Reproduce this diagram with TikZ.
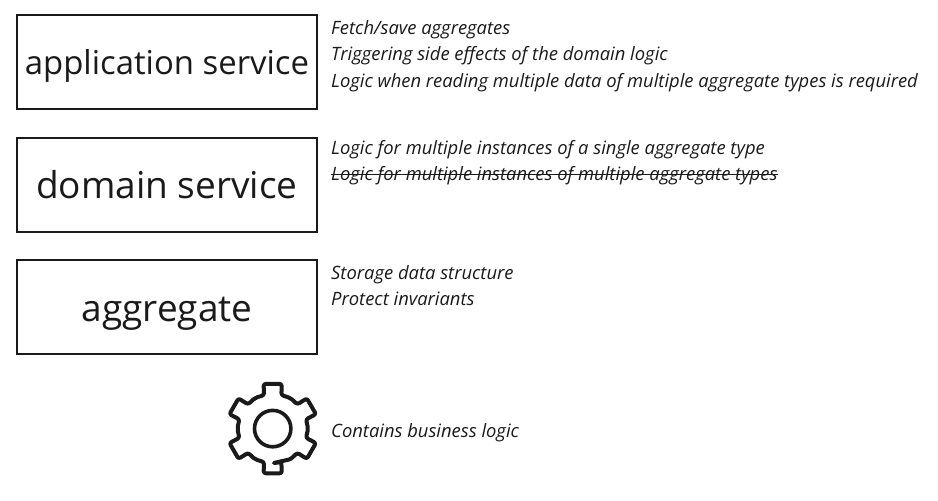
\documentclass[tikz,border=0pt]{standalone}
\usepackage{fontspec}
\setmainfont{Open Sans}
\definecolor{ink}{HTML}{1A1A1A}
\begin{document}
\begin{tikzpicture}[x=1pt,y=-1pt,
  box/.style={draw=ink,text=ink,line width=2pt,minimum width=300pt,minimum height=94pt,inner sep=0pt,text depth=0pt},
  big/.style={font=\fontsize{37}{44}\selectfont,text height=28pt},
  mid/.style={font=\fontsize{32.9}{40}\selectfont,text height=26pt},
  note/.style={anchor=base west,inner sep=0pt,text=ink,font=\fontsize{18.39}{22}\selectfont\itshape}]
\useasboundingbox (0,0) rectangle (938,501);
\fill[white] (0,0) rectangle (938,501);
\node[box,mid] (app) at (167,61.8) {application service};
\node[box,big] (dom) at (167,184.6) {domain service};
\node[box,big] (agg) at (167,307.3) {aggregate};
\node[note] (a1) at (331,34) {Fetch/save aggregates};
\node[note] (a2) at (331,60) {Triggering side effects of the domain logic};
\node[note] (a3) at (331,87) {Logic when reading multiple data of multiple aggregate types is required};
\node[note] (d1) at (331,154) {Logic for multiple instances of a single aggregate type};
\node[note] (d2) at (331,180) {Logic for multiple instances of multiple aggregate types};
\draw[draw=ink,line width=1pt] ([yshift=6pt]d2.base west) -- ([yshift=6pt]d2.base east);
\node[note] (g1) at (331,279) {Storage data structure};
\node[note] (g2) at (331,305) {Protect invariants};
\node[note] (c1) at (331,437) {Contains business logic};
\begin{scope}[shift={(272.7,428.6)},draw=ink,line width=4pt]
\draw[line width=3.6pt] (0,0) circle[radius=18.2];
\draw[rounded corners=2.2pt,line join=round]
  (90:34.6) \foreach \a in {90,150,210,270,330,30} {
    -- ({\a-14.5}:34.6) -- ({\a-11.5}:45.6) -- ({\a+11.5}:45.6) -- ({\a+14.5}:34.6) -- ({\a+30}:35.4)
  } -- cycle;
\end{scope}
\end{tikzpicture}
\end{document}
